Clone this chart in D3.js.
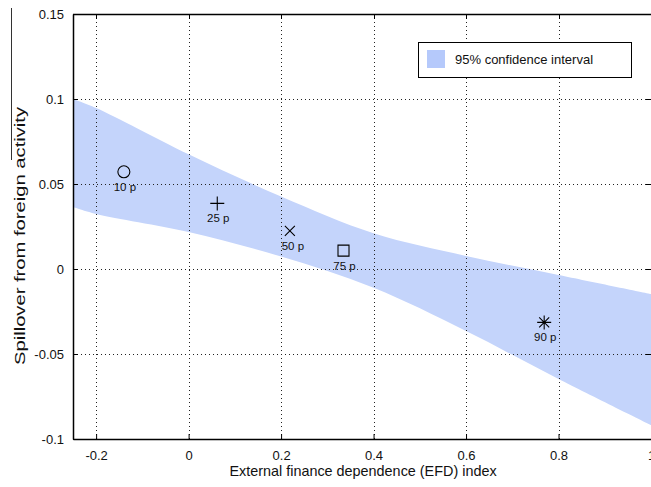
<!DOCTYPE html>
<html>
<head>
<meta charset="utf-8">
<script src="https://cdn.jsdelivr.net/npm/d3@7"></script>
<style>
  body { margin: 0; background: #fff; }
  svg { display: block; font-family: "Liberation Sans", Arial, sans-serif; }
</style>
</head>
<body>
<div id="chart"></div>
<script>
// band of the 95% confidence interval
var bandX     = [-0.25, -0.2, 0, 0.2, 0.4, 0.6, 0.8, 1.0];
var bandUpper = [0.1, 0.0947, 0.0675, 0.0426, 0.021, 0.0077, -0.0035, -0.0147];
var bandLower = [0.0365, 0.0324, 0.0218, 0.0073, -0.0111, -0.0365, -0.0647, -0.0918];

// percentile points
var pointLabels = ["10 p", "25 p", "50 p", "75 p", "90 p"];
var pointX = [-0.14, 0.062, 0.219, 0.335, 0.769];
var pointY = [0.0572, 0.0386, 0.0224, 0.0108, -0.0314];
var pointShape = ["circle", "plus", "cross", "square", "star"];

var xTicks = [-0.2, 0, 0.2, 0.4, 0.6, 0.8, 1];
var yTicks = [-0.1, -0.05, 0, 0.05, 0.1, 0.15];

var w = 651, h = 487;
var margin = {top: 14, right: 0, bottom: 48, left: 73};
var width = w - margin.left - margin.right;
var height = h - margin.top - margin.bottom;

var svg = d3.select("#chart").append("svg")
    .attr("width", w)
    .attr("height", h);

var g = svg.append("g")
    .attr("transform", "translate(" + margin.left + "," + margin.top + ")");

var xScale = d3.scaleLinear().domain([-0.25, 1]).range([0, width]);
var yScale = d3.scaleLinear().domain([-0.1, 0.15]).range([height, 0]);

// matlab style labels, plain hyphen
var fmt = function (d) { return String(+d.toFixed(2)); };

/* confidence band */
var band = bandX.map(function (x, i) {
    return {x: x, lo: bandLower[i], hi: bandUpper[i]};
});
var area = d3.area()
    .curve(d3.curveCatmullRom.alpha(0.5))
    .x(function (d) { return xScale(d.x); })
    .y0(function (d) { return yScale(d.lo); })
    .y1(function (d) { return yScale(d.hi); });

g.append("path")
    .datum(band)
    .attr("d", area)
    .attr("fill", "#c4d4fb");

/* dotted grid */
g.selectAll(".vgrid")
    .data(xTicks)
    .enter().append("line")
    .attr("x1", function (d) { return Math.round(xScale(d)) + 0.5; })
    .attr("x2", function (d) { return Math.round(xScale(d)) + 0.5; })
    .attr("y1", 0)
    .attr("y2", height)
    .attr("stroke", "#222")
    .attr("stroke-dasharray", "1,3");

g.selectAll(".hgrid")
    .data(yTicks)
    .enter().append("line")
    .attr("y1", function (d) { return Math.round(yScale(d)) + 0.5; })
    .attr("y2", function (d) { return Math.round(yScale(d)) + 0.5; })
    .attr("x1", 0)
    .attr("x2", width)
    .attr("stroke", "#222")
    .attr("stroke-dasharray", "1,3");

/* axes */
var xAxis = d3.axisBottom(xScale)
    .tickValues(xTicks)
    .tickSizeInner(-5)
    .tickSizeOuter(0)
    .tickPadding(12)
    .tickFormat(fmt);

var yAxis = d3.axisLeft(yScale)
    .tickValues(yTicks)
    .tickSizeInner(-5)
    .tickSizeOuter(0)
    .tickPadding(9)
    .tickFormat(fmt);

var gx = g.append("g")
    .attr("transform", "translate(0," + height + ")")
    .call(xAxis);
var gy = g.append("g").call(yAxis);

[gx, gy].forEach(function (a) {
    a.select(".domain").attr("stroke", "#000").attr("stroke-width", 1.5);
    a.selectAll(".tick line").attr("stroke", "#000");
    a.selectAll(".tick text")
        .attr("fill", "#111")
        .style("font-size", "13px");
});

// top border with ticks
g.append("line")
    .attr("x1", 0).attr("x2", width)
    .attr("y1", 0.5).attr("y2", 0.5)
    .attr("stroke", "#000").attr("stroke-width", 1.5);
g.selectAll(".ttick")
    .data(xTicks)
    .enter().append("line")
    .attr("x1", function (d) { return Math.round(xScale(d)) + 0.5; })
    .attr("x2", function (d) { return Math.round(xScale(d)) + 0.5; })
    .attr("y1", 0).attr("y2", 5)
    .attr("stroke", "#000");
g.selectAll(".rtick")
    .data(yTicks)
    .enter().append("line")
    .attr("y1", function (d) { return Math.round(yScale(d)) + 0.5; })
    .attr("y2", function (d) { return Math.round(yScale(d)) + 0.5; })
    .attr("x1", width - 5).attr("x2", width)
    .attr("stroke", "#000");

/* markers */
function markerPath(shape) {
    var p = d3.path();
    if (shape == "circle") {
        p.moveTo(6, 0);
        p.arc(0, 0, 6, 0, 2 * Math.PI);
    } else if (shape == "plus") {
        p.moveTo(-7, 0); p.lineTo(7, 0);
        p.moveTo(0, -7); p.lineTo(0, 7);
    } else if (shape == "cross") {
        p.moveTo(-5, -5); p.lineTo(5, 5);
        p.moveTo(-5, 5); p.lineTo(5, -5);
    } else if (shape == "square") {
        p.rect(-5.5, -5.5, 11, 11);
    } else {
        p.moveTo(-7, 0); p.lineTo(7, 0);
        p.moveTo(0, -7); p.lineTo(0, 7);
        p.moveTo(-5, -5); p.lineTo(5, 5);
        p.moveTo(-5, 5); p.lineTo(5, -5);
    }
    return p.toString();
}

var pts = g.selectAll(".pt")
    .data(pointX)
    .enter().append("g")
    .attr("transform", function (d, i) {
        return "translate(" + xScale(d) + "," + yScale(pointY[i]) + ")";
    });

pts.append("path")
    .attr("d", function (d, i) { return markerPath(pointShape[i]); })
    .attr("fill", "none")
    .attr("stroke", "#000")
    .attr("stroke-width", 1.1);

pts.append("text")
    .attr("x", function (d, i) { return i == 2 ? 3 : 1; })
    .attr("y", 19)
    .attr("text-anchor", "middle")
    .style("font-size", "11.5px")
    .attr("fill", "#111")
    .text(function (d, i) { return pointLabels[i]; });

/* legend */
var legend = g.append("g")
    .attr("transform", "translate(" + (418 - margin.left) + "," + (42 - margin.top) + ")");
legend.append("rect")
    .attr("x", 0.5).attr("y", 0.5)
    .attr("width", 213).attr("height", 35)
    .attr("fill", "#fff")
    .attr("stroke", "#000");
legend.append("rect")
    .attr("x", 9).attr("y", 8)
    .attr("width", 18).attr("height", 18)
    .attr("fill", "#b5c9fb");
legend.append("text")
    .attr("x", 37).attr("y", 17)
    .attr("dy", ".35em")
    .style("font-size", "13px")
    .attr("fill", "#111")
    .text("95% confidence interval");

/* axis labels */
svg.append("text")
    .attr("x", margin.left + width / 2 + 1)
    .attr("y", 476)
    .attr("text-anchor", "middle")
    .style("font-size", "14.4px")
    .attr("fill", "#111")
    .text("External finance dependence (EFD) index");

svg.append("text")
    .attr("transform", "translate(25,107) rotate(-90)")
    .attr("x", -258)
    .attr("textLength", 258)
    .attr("lengthAdjust", "spacingAndGlyphs")
    .style("font-size", "14px")
    .attr("fill", "#111")
    .text("Spillover from foreign activity");

svg.append("line")
    .attr("x1", 11.5).attr("x2", 11.5)
    .attr("y1", 8).attr("y2", 160)
    .attr("stroke", "#333");
</script>
</body>
</html>
